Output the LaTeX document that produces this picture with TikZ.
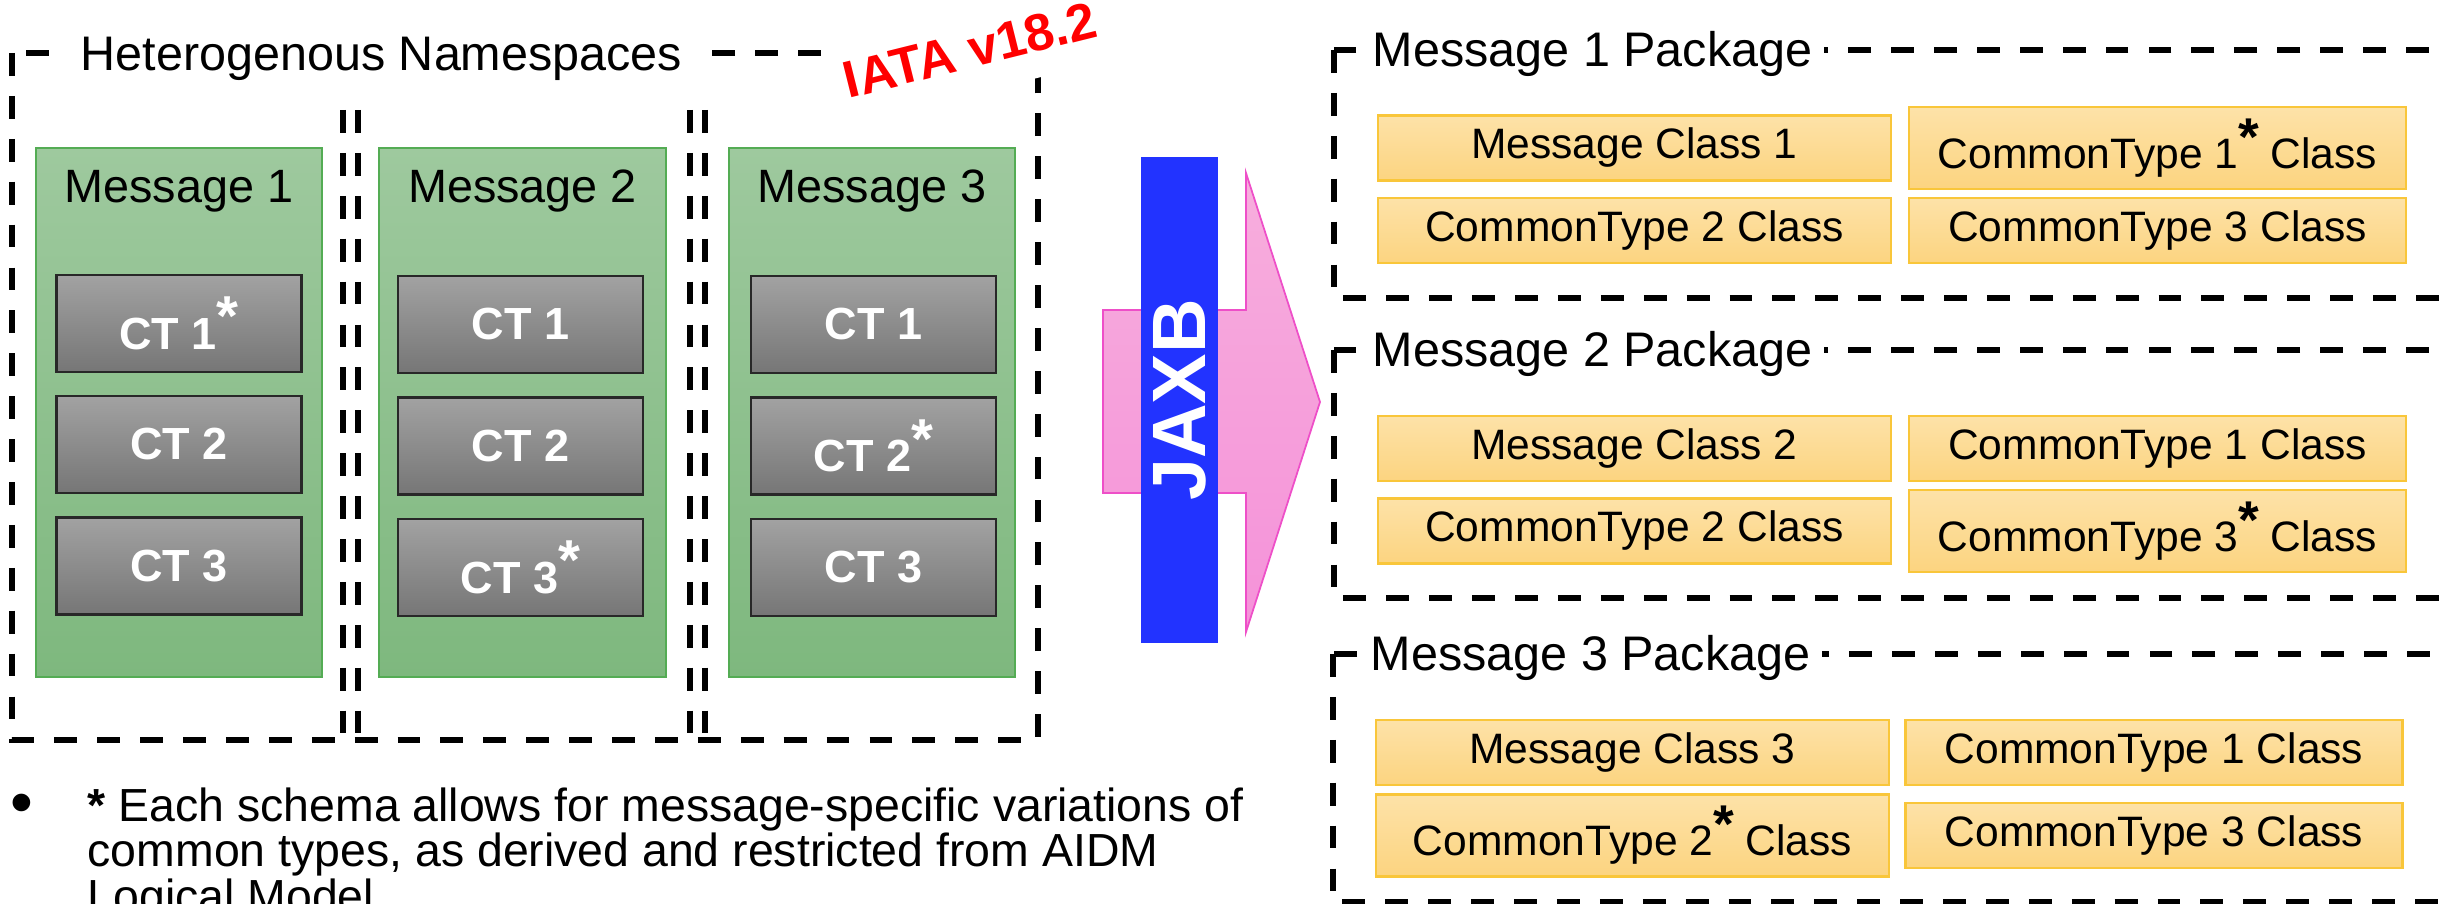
\documentclass[tikz,border=0pt]{standalone}
\usepackage{graphicx}
\usepackage{fontspec}
\setmainfont{Liberation Sans}
\usepackage{tikz}
\definecolor{groupgreentop}{RGB}{158, 201, 158}
\definecolor{groupgreenbot}{RGB}{126, 184, 126}
\definecolor{groupgreenline}{RGB}{84, 172, 84}
\definecolor{cttop}{RGB}{162, 162, 162}
\definecolor{ctbot}{RGB}{118, 118, 118}
\definecolor{ctline}{RGB}{40, 40, 40}
\definecolor{classtop}{RGB}{253, 226, 168}
\definecolor{classbot}{RGB}{252, 212, 128}
\definecolor{classline}{RGB}{249, 198, 58}
\definecolor{jaxbblue}{RGB}{34, 51, 255}
\definecolor{pinktop}{RGB}{247, 174, 221}
\definecolor{pinkbot}{RGB}{245, 146, 217}
\definecolor{pinkline}{RGB}{238, 79, 200}
\definecolor{iatared}{RGB}{255, 0, 0}

\newcommand{\supstar}{\raisebox{0.3em}{\scalebox{1.25}{\textbf{*}}}}

\begin{document}
\begin{tikzpicture}[
        x=0.01cm, y=-0.01cm,
        frame/.style={draw=black, line width=1.7pt, dash pattern=on 6.5pt off 5.7pt},
        framelabel/.style={fill=white, anchor=base west, inner xsep=0.12cm, inner ysep=0.03cm, font=\fontsize{13.8}{16}\selectfont},
        msgcol/.style={rectangle, draw=groupgreenline, line width=0.6pt, top color=groupgreentop, bottom color=groupgreenbot, minimum width=2.86cm, minimum height=5.29cm},
        msgtitle/.style={anchor=base, font=\fontsize{13.3}{16}\selectfont},
        ctbox/.style={rectangle, draw=ctline, line width=0.7pt, top color=cttop, bottom color=ctbot, minimum width=2.45cm, minimum height=0.97cm, text=white, font=\fontsize{12.8}{15}\selectfont\bfseries},
        msgclass/.style={rectangle, draw=classline, line width=0.7pt, top color=classtop, bottom color=classbot, minimum width=5.13cm, minimum height=0.65cm, font=\fontsize{12.1}{14}\selectfont},
        typeclass/.style={msgclass, minimum width=4.97cm},
        jaxbarrow/.style={draw=pinkline, line width=0.5pt, top color=pinktop, bottom color=pinkbot},
        jaxbbox/.style={rectangle, fill=jaxbblue, rotate=90, minimum width=4.86cm, minimum height=0.77cm, text=white, font=\fontsize{21.5}{24}\selectfont\bfseries},
        notetext/.style={font=\fontsize{13.2}{12.9}\selectfont}
    ]
    \clip (0,0) rectangle (2441,904);

    % Namespaces frame
    \draw[frame] (12,53) rectangle (1038,740);
    \draw[frame] (343,110) -- (343,740);
    \draw[frame] (358,110) -- (358,740);
    \draw[frame] (690,110) -- (690,740);
    \draw[frame] (705,110) -- (705,740);
    \node[framelabel] (ns) at (68,71) {Heterogenous Namespaces};

    % Message schemas
    \node[msgcol] (msg1) at (179,412.5) {};
    \node[msgcol] (msg2) at (522.5,412.5) {};
    \node[msgcol] (msg3) at (872,412.5) {};
    \node[msgtitle] (msg1title) at (179,203) {Message 1};
    \node[msgtitle] (msg2title) at (522.5,203) {Message 2};
    \node[msgtitle] (msg3title) at (872,203) {Message 3};

    % Common types
    \node[ctbox] (ct11) at (179,323.5) {CT 1\supstar};
    \node[ctbox] (ct12) at (179,444.5) {CT 2};
    \node[ctbox] (ct13) at (179,566) {CT 3};
    \node[ctbox] (ct21) at (520.5,324.5) {CT 1};
    \node[ctbox] (ct22) at (520.5,446) {CT 2};
    \node[ctbox] (ct23) at (520.5,567.5) {CT 3\supstar};
    \node[ctbox] (ct31) at (873.5,324.5) {CT 1};
    \node[ctbox] (ct32) at (873.5,446) {CT 2\supstar};
    \node[ctbox] (ct33) at (873.5,567.5) {CT 3};

    % JAXB
    \path[jaxbarrow] (1103,310) -- (1246,310) -- (1246,173) -- (1320,402) -- (1246,632) -- (1246,493) -- (1103,493) -- cycle;
    \node[jaxbbox] (jaxb) at (1179.5,400) {JAXB};

    % Packages
    \draw[frame] (1334,50) rectangle (2470,298);
    \draw[frame] (1334,350) rectangle (2470,598);
    \draw[frame] (1333,654) rectangle (2470,902);
    \node[framelabel] (pkg1) at (1360,67) {Message 1 Package};
    \node[framelabel] (pkg2) at (1360,367) {Message 2 Package};
    \node[framelabel] (pkg3) at (1358,671) {Message 3 Package};

    \node[msgclass] (mc1) at (1634.5,148) {Message Class 1};
    \node[typeclass] (p1t1) at (2157.5,148) {CommonType 1\supstar{} Class};
    \node[msgclass] (p1t2) at (1634.5,230.5) {CommonType 2 Class};
    \node[typeclass] (p1t3) at (2157.5,230.5) {CommonType 3 Class};

    \node[msgclass] (mc2) at (1634.5,448.5) {Message Class 2};
    \node[typeclass] (p2t1) at (2157.5,448.5) {CommonType 1 Class};
    \node[msgclass] (p2t2) at (1634.5,531) {CommonType 2 Class};
    \node[typeclass] (p2t3) at (2157.5,531) {CommonType 3\supstar{} Class};

    \node[msgclass] (mc3) at (1632.5,752.5) {Message Class 3};
    \node[typeclass] (p3t1) at (2154,752.5) {CommonType 1 Class};
    \node[msgclass] (p3t2) at (1632.5,835.5) {CommonType 2\supstar{} Class};
    \node[typeclass] (p3t3) at (2154,835.5) {CommonType 3 Class};

    % Note
    \node[notetext] (dot) at (22,809) {\scalebox{1.4}{•}};
    \node[notetext, anchor=north west, align=left, inner sep=0pt] (note) at (87,787) {\textbf{*} Each schema allows for message-specific variations of\\common types, as derived and restricted from AIDM\\Logical Model};

    % Version stamp
    \node[fill=white, rotate=14, inner xsep=0.15cm, inner ysep=0.25cm, text=iatared, font=\fontsize{14.8}{17}\selectfont\bfseries] (iata) at (970,50) {IATA v18.2};

\end{tikzpicture}
\end{document}
